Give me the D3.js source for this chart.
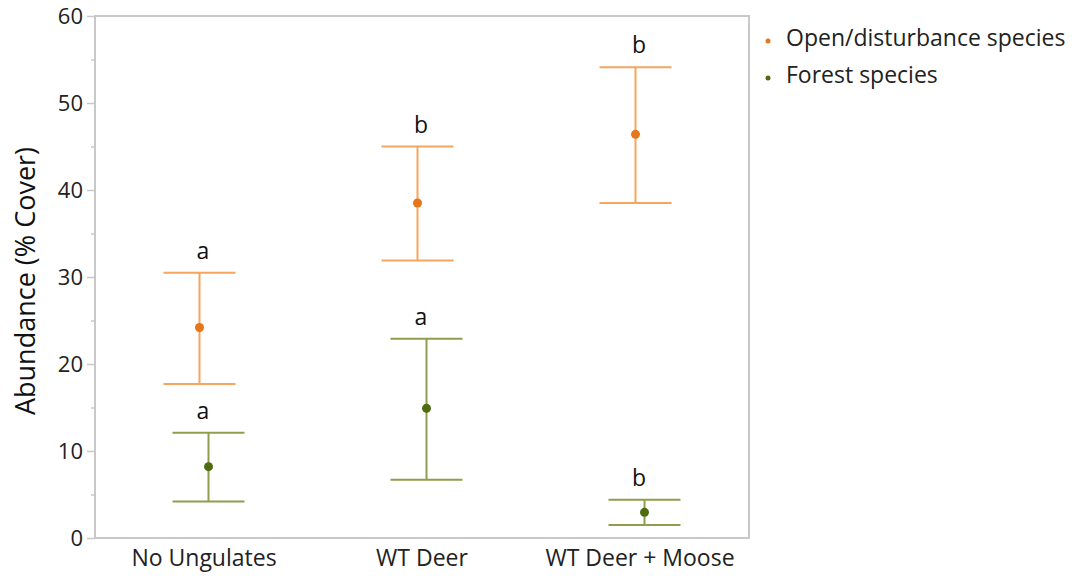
<!DOCTYPE html>
<html><head><meta charset="utf-8">
<script src="https://cdn.jsdelivr.net/npm/d3@7"></script>
<style>body{margin:0;background:#fff;} svg{display:block;font-family:"Open Sans","Noto Sans",sans-serif;}</style>
</head><body>
<svg id="c" width="1076" height="576"></svg>
<script>
const categories = ["No Ungulates", "WT Deer", "WT Deer + Moose"];
const seriesNames = ["Open/disturbance species", "Forest species"];
const openMean = [24.2, 38.5, 46.4];
const openLow = [17.7, 31.9, 38.5];
const openHigh = [30.5, 45.0, 54.1];
const openLetters = ["a", "b", "b"];
const forestMean = [8.2, 14.9, 2.95];
const forestLow = [4.2, 6.7, 1.5];
const forestHigh = [12.1, 22.9, 4.4];
const forestLetters = ["a", "a", "b"];
const yTicks = [0, 10, 20, 30, 40, 50, 60];
const yMinor = [5, 15, 25, 35, 45, 55];

const svg = d3.select("#c");
const L = 95, R = 749, T = 16, B = 538;
const x = d3.scaleBand().domain(categories).range([L, R]).padding(0);
const y = d3.scaleLinear().domain([0, 60]).range([B, T]);

// frame
svg.append("rect").attr("x", L).attr("y", T).attr("width", R - L).attr("height", B - T)
  .attr("fill", "none").attr("stroke", "#c8c8c8").attr("stroke-width", 2);

// y axis
const yAx = svg.append("g").attr("transform", `translate(${L},0)`)
  .call(d3.axisLeft(y).tickValues(yTicks).tickSize(8).tickPadding(4).tickFormat(d3.format("d")));
yAx.select(".domain").remove();
yAx.selectAll(".tick line").attr("stroke", "#c8c8c8").attr("stroke-width", 1.5);
yAx.selectAll("text").attr("font-size", 22).attr("fill", "#222").attr("font-family", "Open Sans");
svg.append("g").attr("transform", `translate(${L},0)`)
  .call(d3.axisLeft(y).tickValues(yMinor).tickSize(4).tickFormat(""))
  .call(g => { g.select(".domain").remove(); g.selectAll("line").attr("stroke", "#c8c8c8").attr("stroke-width", 1.5); });

// x axis
const xAx = svg.append("g").attr("transform", `translate(0,${B})`)
  .call(d3.axisBottom(x).tickSize(0).tickPadding(12));
xAx.select(".domain").remove();
xAx.selectAll("text").attr("font-size", 23).attr("fill", "#222").attr("font-family", "Open Sans");

// y title
svg.append("text").attr("transform", `translate(35,281) rotate(-90)`)
  .attr("text-anchor", "middle").attr("font-size", 27).attr("fill", "#111").text("Abundance (% Cover)");

const series = [
  { mean: openMean, lo: openLow, hi: openHigh, letters: openLetters, off: -4.5, line: "#F5A55C", pt: "#E8751A" },
  { mean: forestMean, lo: forestLow, hi: forestHigh, letters: forestLetters, off: 4.5, line: "#8E9E4C", pt: "#4E6B10" }
];
const capW = 36;
series.forEach(s => {
  const g = svg.append("g");
  categories.forEach((c, i) => {
    const cx = x(c) + x.bandwidth() / 2 + s.off;
    g.append("line").attr("x1", cx).attr("x2", cx).attr("y1", y(s.lo[i])).attr("y2", y(s.hi[i]))
      .attr("stroke", s.line).attr("stroke-width", 2);
    [s.lo[i], s.hi[i]].forEach(v => g.append("line").attr("x1", cx - capW).attr("x2", cx + capW)
      .attr("y1", y(v)).attr("y2", y(v)).attr("stroke", s.line).attr("stroke-width", 2));
    g.append("circle").attr("cx", cx).attr("cy", y(s.mean[i])).attr("r", 4.5).attr("fill", s.pt);
    g.append("text").attr("x", x(c) + x.bandwidth() / 2 - 1).attr("y", y(s.hi[i]) - 14)
      .attr("text-anchor", "middle").attr("font-size", 23).attr("fill", "#111").text(s.letters[i]);
  });
});

// legend
seriesNames.forEach((n, i) => {
  const ly = 46 + i * 37;
  svg.append("circle").attr("cx", 768).attr("cy", ly - 5).attr("r", 2.5).attr("fill", series[i].pt);
  svg.append("text").attr("x", 786).attr("y", ly).attr("font-size", 23).attr("fill", "#222").text(n);
});
</script>
</body></html>
